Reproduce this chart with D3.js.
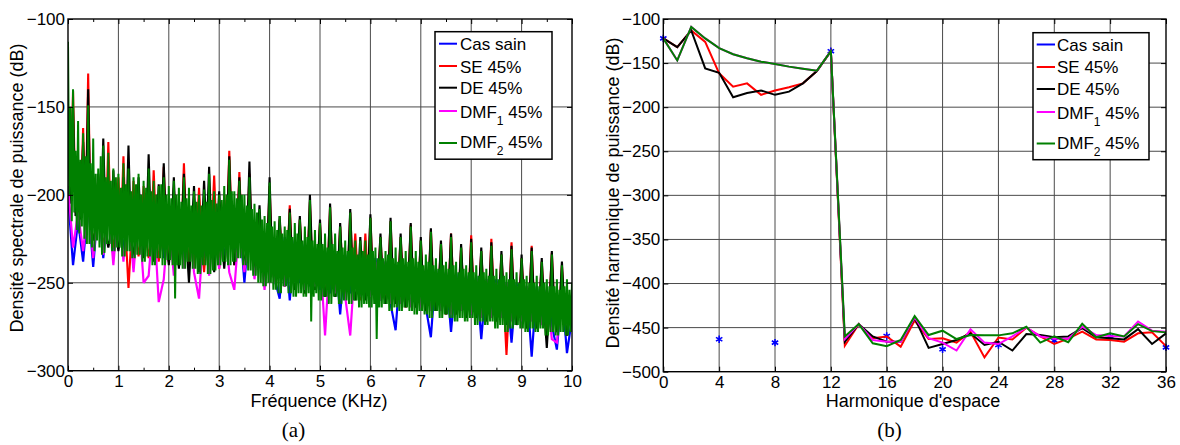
<!DOCTYPE html>
<html><head><meta charset="utf-8">
<script src="https://cdn.jsdelivr.net/npm/d3@7"></script>
<style>
body{margin:0;background:#fff}
svg{display:block}
text{font-family:"Liberation Sans",Arial,Helvetica,sans-serif;fill:#000}
</style>
</head><body>
<svg id="chart" width="1180" height="445"></svg>
<script>
// ---------------- DATA ----------------
const seriesNames = ["Cas sain", "SE 45%", "DE 45%", "DMF1 45%", "DMF2 45%"];
const seriesColors = ["#0000ff", "#ff0000", "#000000", "#ff00ff", "#008000"];

// (a) spectrum, dB ; DMF2 every 0.025 kHz, SE/DE every 0.05 kHz, Cas sain/DMF1 every 0.1 kHz
const fineStepKHz = 0.025;
const midStepKHz = 0.05;
const coarseStepKHz = 0.1;
const specDMF2 = [
 -113,-200,-150,-215, -140,-210,-175,-220, -158,-222,-180,-218, -165,-225,-178,-228, -149,-228,-182,-230,
 -168,-232,-188,-226, -185,-230,-178,-234, -172,-233,-190,-228, -176,-228,-192,-232, -185,-232,-190,-230,
 -188,-230,-196,-235, -182,-235,-194,-232, -185,-232,-198,-236, -190,-236,-194,-234, -188,-234,-200,-238,
 -192,-238,-196,-235, -185,-235,-198,-240, -192,-240,-200,-236, -195,-236,-194,-240, -190,-240,-200,-237,
 -195,-237,-202,-240, -192,-259,-200,-240, -196,-240,-204,-242, -190,-242,-202,-238, -196,-238,-206,-242,
 -198,-242,-204,-245, -200,-245,-206,-240, -197,-240,-204,-245, -188,-245,-203,-243, -198,-243,-205,-240,
 -200,-240,-203,-238, -195,-238,-200,-240, -180,-240,-198,-238, -198,-238,-202,-236, -192,-236,-200,-240,
 -200,-240,-206,-243, -190,-243,-208,-246, -205,-246,-210,-250, -208,-250,-214,-252, -212,-252,-216,-250,
 -193,-250,-218,-254, -215,-254,-220,-256, -212,-256,-222,-252, -218,-252,-220,-256, -210,-256,-224,-258,
 -216,-258,-222,-256, -214,-256,-226,-258, -218,-258,-224,-256, -203,-272,-226,-258, -220,-256,-228,-260,
 -216,-260,-228,-258, -222,-258,-230,-262, -207,-262,-228,-258, -222,-258,-232,-262, -218,-262,-230,-260,
 -226,-260,-232,-262, -210,-262,-230,-260, -226,-260,-234,-264, -226,-264,-232,-262, -226,-262,-234,-264,
 -213,-264,-232,-262, -230,-282,-236,-264, -224,-264,-236,-262, -232,-262,-234,-266, -215,-266,-236,-264,
 -230,-264,-238,-266, -224,-266,-236,-264, -232,-264,-238,-266, -218,-266,-236,-268, -232,-268,-238,-266,
 -226,-266,-240,-268, -234,-268,-238,-270, -221,-270,-240,-266, -236,-266,-242,-270, -228,-270,-240,-268,
 -238,-268,-242,-270, -224,-270,-240,-272, -238,-272,-244,-270, -230,-270,-242,-272, -240,-272,-244,-270,
 -227,-270,-244,-274, -240,-274,-246,-272, -232,-272,-244,-274, -242,-274,-246,-272, -229,-272,-246,-276,
 -242,-276,-248,-274, -234,-274,-246,-278, -244,-278,-248,-276, -231,-276,-248,-274, -244,-274,-250,-276,
 -236,-276,-248,-278, -246,-278,-250,-276, -232,-276,-250,-278, -246,-278,-252,-276, -238,-276,-250,-280,
 -248,-280,-252,-278, -234,-278,-252,-280, -248,-280,-254,-278, -240,-278,-252,-280, -248,-280,-254,-278,
 -250];
const specSE = [
 -150,-200,-141,-210,-205,-212,-162,-215,-131,-218,-225,-220,-190,-220,-228,-222,-170,-218,-230,-222,
 -190,-222,-178,-225,-253,-228,-192,-222,-235,-225,-195,-224,-236,-226,-186,-222,-238,-226,-184,-224,
 -238,-226,-196,-224,-240,-226,-182,-222,-240,-226,-242,-224,-196,-226,-244,-226,-200,-222,-189,-226,
 -242,-226,-200,-224,-175,-222,-240,-226,-187,-226,-242,-228,-188,-230,-246,-232,-210,-234,-252,-236,
 -195,-238,-250,-240,-214,-238,-252,-240,-206,-240,-254,-242,-214,-240,-256,-242,-204,-244,-254,-244,
 -216,-246,-258,-246,-207,-246,-258,-248,-218,-246,-258,-248,-210,-246,-222,-248,-260,-248,-222,-250,
 -213,-250,-262,-250,-224,-252,-262,-250,-215,-252,-262,-252,-224,-252,-264,-254,-217,-252,-264,-254,
 -226,-254,-266,-256,-220,-254,-266,-256,-228,-256,-268,-256,-222,-256,-268,-258,-230,-258,-270,-258,
 -223,-258,-270,-258,-232,-260,-272,-260,-225,-260,-272,-262,-234,-262,-291,-262,-227,-262,-274,-262,
 -236,-262,-276,-264,-229,-264,-276,-264,-238,-264,-278,-264,-233,-266,-278,-266,-240,-266,-280,-266,
 -262];
const specDE = [
 -150,-205,-150,-212,-208,-214,-170,-216,-140,-218,-226,-220,-188,-218,-168,-222,-230,-222,-186,-220,
 -232,-222,-190,-224,-172,-226,-234,-224,-190,-222,-236,-226,-177,-224,-238,-226,-194,-224,-182,-226,
 -240,-224,-190,-226,-242,-224,-188,-226,-250,-224,-195,-226,-244,-226,-192,-224,-184,-226,-244,-224,
 -198,-226,-242,-224,-178,-226,-240,-224,-190,-226,-242,-228,-181,-230,-246,-232,-206,-236,-250,-236,
 -190,-240,-250,-238,-212,-240,-252,-240,-208,-242,-254,-240,-212,-242,-256,-244,-200,-242,-254,-244,
 -214,-246,-258,-248,-205,-246,-258,-248,-216,-248,-258,-246,-208,-248,-260,-250,-224,-250,-260,-250,
 -211,-252,-262,-250,-222,-252,-262,-252,-213,-252,-262,-254,-222,-254,-264,-252,-216,-254,-264,-256,
 -224,-256,-266,-254,-219,-256,-266,-256,-226,-258,-268,-256,-222,-258,-268,-258,-228,-258,-270,-260,
 -225,-260,-270,-258,-230,-260,-272,-260,-227,-262,-272,-262,-232,-260,-274,-262,-229,-262,-274,-264,
 -234,-264,-276,-262,-230,-264,-276,-264,-236,-266,-287,-264,-232,-266,-278,-266,-238,-266,-280,-268,
 -262];
const specSain = [
 -200,-240,-215,-238,-205,-241,-205,-236,-205,-235,
 -205,-232,-205,-238,-208,-232,-208,-234,-210,-236,
 -210,-234,-212,-236,-212,-238,-214,-236,-214,-238,
 -214,-236,-212,-234,-212,-250,-215,-240,-220,-246,
 -218,-248,-259,-224,-260,-226,-250,-228,-252,-230,
 -254,-232,-256,-232,-268,-234,-256,-234,-258,-236,
 -258,-236,-260,-238,-262,-277,-238,-262,-240,-264,
 -240,-264,-281,-242,-266,-244,-278,-244,-266,-246,
 -268,-246,-282,-248,-268,-248,-270,-250,-284,-250,
 -272,-252,-292,-252,-272,-254,-274,-288,-254,-290,
 -270];
const specDMF1 = [
 -195,-230,-210,-232,-205,-236,-205,-234,-205,-240,
 -205,-238,-208,-244,-208,-250,-246,-210,-261,-248,
 -212,-246,-212,-242,-214,-244,-259,-214,-246,-216,
 -242,-214,-244,-254,-216,-244,-218,-248,-222,-254,
 -222,-250,-226,-252,-228,-250,-230,-254,-230,-252,
 -232,-280,-232,-256,-234,-258,-280,-236,-258,-236,
 -258,-238,-260,-238,-262,-240,-262,-240,-264,-242,
 -264,-242,-266,-244,-266,-244,-268,-246,-266,-246,
 -268,-248,-270,-248,-270,-250,-270,-250,-272,-252,
 -272,-252,-272,-254,-274,-254,-282,-284,-256,-274,
 -262];

// (b) harmonic density, dB, harmonics 0..36
const harmonics = d3.range(0, 37);
const harmSain = [-122,null,null,null,-463.2,null,null,null,-467,null,null,null,-136.5,null,null,null,-459.5,null,null,null,-474.6,null,null,null,-469.7,null,null,null,-464.8,null,null,null,-460,null,null,null,-472.4];
const harmSE = [-122,-132,-113,-126,-161.6,-176.7,-173,-186,-181,-177.5,-173,-159,-136.5,-470.5,-446,-462,-460,-471.6,-442,-463,-462,-467,-454.6,-483.8,-461.2,-463.4,-450,-460,-468.6,-462.5,-454.6,-463.4,-464,-466,-456.5,-455.4,-471];
const harmDE = [-122,-132,-113,-156,-161,-188.8,-184,-181,-186,-182.4,-173,-159,-136.5,-466,-446,-460,-466,-466,-439,-473,-468.6,-464,-456.5,-469.7,-466,-476,-457.3,-458.4,-461,-460,-450.5,-461,-462,-463.4,-451.7,-468.6,-456.5];
const harmDMF1 = [-122,-147,-109,-122,-133,-140,-144.6,-148.4,-151,-154,-156.4,-158.6,-136.5,-463,-446,-464,-466,-466,-438.5,-462,-467,-476,-452,-467,-468.6,-460,-449.8,-460,-462.5,-462.5,-449,-458.4,-459.5,-460,-443,-453.5,-454.6];
const harmDMF2 = [-122,-147,-109,-122,-133,-140,-144.6,-148.4,-151,-154,-156.4,-158.6,-136.5,-460,-446,-467.8,-471,-464,-437,-458.4,-453.5,-463,-458.4,-458.8,-458.8,-456.5,-449,-467,-460,-466.5,-445.7,-461,-456.5,-460,-446,-454,-455.4];

// tick labels
const ticksA_x = [0,1,2,3,4,5,6,7,8,9,10];
const ticksA_xMinor = [0.5,1.5,2.5,3.5,4.5,5.5,6.5,7.5,8.5,9.5];
const ticksA_y = [-300,-250,-200,-150,-100];
const ticksB_x = [0,4,8,12,16,20,24,28,32,36];
const ticksB_y = [-500,-450,-400,-350,-300,-250,-200,-150,-100];

// ---------------- DRAW ----------------
const svg = d3.select("#chart");
svg.append("rect").attr("width",1180).attr("height",445).attr("fill","#fff");

const A = {l:68, r:572, t:19, b:370.7};
const B = {l:663.3, r:1166, t:19, b:371.7};

const xA = d3.scaleLinear().domain([0,10]).range([A.l, A.r]);
const yA = d3.scaleLinear().domain([-300,-100]).range([A.b, A.t]);
const xB = d3.scaleLinear().domain([0,36]).range([B.l, B.r]);
const yB = d3.scaleLinear().domain([-500,-100]).range([B.b, B.t]);

function grid(g, x, y, xt, yt, P){
  g.append("g").selectAll("line").data(xt.filter(v=>x(v)>P.l+1 && x(v)<P.r-1)).join("line")
    .attr("x1",d=>x(d)).attr("x2",d=>x(d)).attr("y1",P.t).attr("y2",P.b)
    .attr("stroke","#4a4a4a").attr("stroke-width",1);
  g.append("g").selectAll("line").data(yt.filter(v=>y(v)>P.t+1 && y(v)<P.b-1)).join("line")
    .attr("y1",d=>y(d)).attr("y2",d=>y(d)).attr("x1",P.l).attr("x2",P.r)
    .attr("stroke","#4a4a4a").attr("stroke-width",1);
}

function axes(g, x, y, xt, yt, P, minor){
  const fs = "17px";
  const bx = g.append("g").attr("transform",`translate(0,${P.b})`)
    .call(d3.axisBottom(x).tickValues(xt).tickSizeInner(-5).tickSizeOuter(0).tickPadding(4).tickFormat(d3.format("d")));
  bx.select(".domain").remove();
  bx.selectAll("text").style("font-size",fs).attr("font-family",null);
  const tx = g.append("g").attr("transform",`translate(0,${P.t})`)
    .call(d3.axisTop(x).tickValues(xt).tickSizeInner(-5).tickSizeOuter(0).tickFormat(()=>""));
  tx.select(".domain").remove();
  const ly = g.append("g").attr("transform",`translate(${P.l},0)`)
    .call(d3.axisLeft(y).tickValues(yt).tickSizeInner(-5).tickSizeOuter(0).tickPadding(3).tickFormat(d3.format("d")));
  ly.select(".domain").remove();
  ly.selectAll("text").style("font-size",fs).attr("font-family",null);
  const ry = g.append("g").attr("transform",`translate(${P.r},0)`)
    .call(d3.axisRight(y).tickValues(yt).tickSizeInner(-5).tickSizeOuter(0).tickFormat(()=>""));
  ry.select(".domain").remove();
  if(minor){
    const mb = g.append("g").attr("transform",`translate(0,${P.b})`)
      .call(d3.axisBottom(x).tickValues(minor).tickSizeInner(-3).tickSizeOuter(0).tickFormat(()=>""));
    mb.select(".domain").remove();
    const mt = g.append("g").attr("transform",`translate(0,${P.t})`)
      .call(d3.axisTop(x).tickValues(minor).tickSizeInner(-3).tickSizeOuter(0).tickFormat(()=>""));
    mt.select(".domain").remove();
  }
  g.selectAll(".tick line").attr("stroke","#000").attr("stroke-width",1);
  g.append("rect").attr("x",P.l).attr("y",P.t).attr("width",P.r-P.l).attr("height",P.b-P.t)
    .attr("fill","none").attr("stroke","#000").attr("stroke-width",1.4);
}

// ---- panel (a)
const gA = svg.append("g");
grid(gA, xA, yA, ticksA_x, ticksA_y, A);
svg.append("clipPath").attr("id","clipA").append("rect")
  .attr("x",A.l).attr("y",A.t).attr("width",A.r-A.l).attr("height",A.b-A.t);
const linesA = gA.append("g").attr("clip-path","url(#clipA)");
const specSeries = [
  {v:specSain, step:coarseStepKHz, c:seriesColors[0], w:2.2},
  {v:specSE,   step:midStepKHz,    c:seriesColors[1], w:2.1},
  {v:specDE,   step:midStepKHz,    c:seriesColors[2], w:2.1},
  {v:specDMF1, step:coarseStepKHz, c:seriesColors[3], w:2.2},
  {v:specDMF2, step:fineStepKHz,   c:seriesColors[4], w:2.0}
];
specSeries.forEach(s=>{
  const line = d3.line().x((d,i)=>xA(i*s.step)).y(d=>yA(d));
  linesA.append("path").datum(s.v).attr("d",line)
    .attr("fill","none").attr("stroke",s.c).attr("stroke-width",s.w).attr("stroke-linejoin","miter").attr("stroke-miterlimit",2);
});
axes(gA, xA, yA, ticksA_x, ticksA_y, A, ticksA_xMinor);

// ---- panel (b)
const gB = svg.append("g");
grid(gB, xB, yB, ticksB_x, ticksB_y, B);
svg.append("clipPath").attr("id","clipB").append("rect")
  .attr("x",B.l-4).attr("y",B.t-4).attr("width",B.r-B.l+8).attr("height",B.b-B.t+8);
const linesB = gB.append("g").attr("clip-path","url(#clipB)");
const harmSeries = [
  {v:harmSE, c:seriesColors[1]},
  {v:harmDE, c:seriesColors[2]},
  {v:harmDMF1, c:seriesColors[3]},
  {v:harmDMF2, c:seriesColors[4]}
];
// healthy case markers (drawn first)
const lineSain = d3.line().defined(d=>d!==null).x((d,i)=>xB(harmonics[i])).y(d=>yB(d));
linesB.append("path").datum(harmSain).attr("d",lineSain).attr("fill","none").attr("stroke",seriesColors[0]).attr("stroke-width",1.8);
const star = d3.symbol().type(d3.symbolAsterisk).size(38);
linesB.append("g").selectAll("path").data(harmSain.map((v,i)=>({h:harmonics[i],v})).filter(d=>d.v!==null)).join("path")
  .attr("d",star).attr("transform",d=>`translate(${xB(d.h)},${yB(d.v)})`)
  .attr("fill","none").attr("stroke",seriesColors[0]).attr("stroke-width",1.6);
harmSeries.forEach(s=>{
  const line = d3.line().x((d,i)=>xB(harmonics[i])).y(d=>yB(d));
  linesB.append("path").datum(s.v).attr("d",line)
    .attr("fill","none").attr("stroke",s.c).attr("stroke-width",2);
});
axes(gB, xB, yB, ticksB_x, ticksB_y, B, null);

// ---- axis labels
svg.append("text").attr("x",319).attr("y",407).attr("text-anchor","middle").style("font-size","18px").text("Fréquence (KHz)");
svg.append("text").attr("x",913).attr("y",407).attr("text-anchor","middle").style("font-size","18px").text("Harmonique d'espace");
svg.append("text").attr("transform","translate(23,188) rotate(-90)").attr("text-anchor","middle").style("font-size","18px").text("Densité spectrale de puissance (dB)");
svg.append("text").attr("transform","translate(619,193) rotate(-90)").attr("text-anchor","middle").style("font-size","18px").text("Densité harmonique de puissance (dB)");
svg.append("text").attr("x",293.5).attr("y",437).attr("text-anchor","middle").style("font-size","21px").style("font-family","'Liberation Serif','Times New Roman',serif").text("(a)");
svg.append("text").attr("x",889.5).attr("y",437).attr("text-anchor","middle").style("font-size","21px").style("font-family","'Liberation Serif','Times New Roman',serif").text("(b)");

// ---- legends
function legend(x0, y0, w, h, lx1, lx2, tx, lineYs, baseYs, withMarker){
  const g = svg.append("g");
  g.append("rect").attr("x",x0).attr("y",y0).attr("width",w).attr("height",h)
    .attr("fill","#fff").attr("stroke","#000").attr("stroke-width",1.5);
  seriesNames.forEach((name,i)=>{
    g.append("line").attr("x1",lx1).attr("x2",lx2).attr("y1",lineYs[i]).attr("y2",lineYs[i])
      .attr("stroke",seriesColors[i]).attr("stroke-width",2);
    if(withMarker && i===0){
      g.append("path").attr("d",star).attr("transform",`translate(${(lx1+lx2)/2},${lineYs[i]})`)
        .attr("fill","none").attr("stroke",seriesColors[0]).attr("stroke-width",1.5);
    }
    const t = g.append("text").attr("x",tx).attr("y",baseYs[i]).style("font-size","17px");
    const m = name.match(/^DMF(\d) (.*)$/);
    if(m){
      t.append("tspan").text("DMF");
      t.append("tspan").attr("dy",7).style("font-size","12px").text(m[1]);
      t.append("tspan").attr("dy",-7).text("\u00a0" + m[2]);
    } else {
      t.text(name);
    }
  });
}
legend(435, 31.7, 117, 127.5, 439, 457, 460, [43.7,66,87.7,111,143], [50.3,72.7,94.3,118.2,148]);
legend(1033, 32.7, 116, 127, 1036.7, 1055, 1057, [44.5,67,89,112,143.5], [50.8,73.4,95.2,119,149]);
</script>
</body></html>
